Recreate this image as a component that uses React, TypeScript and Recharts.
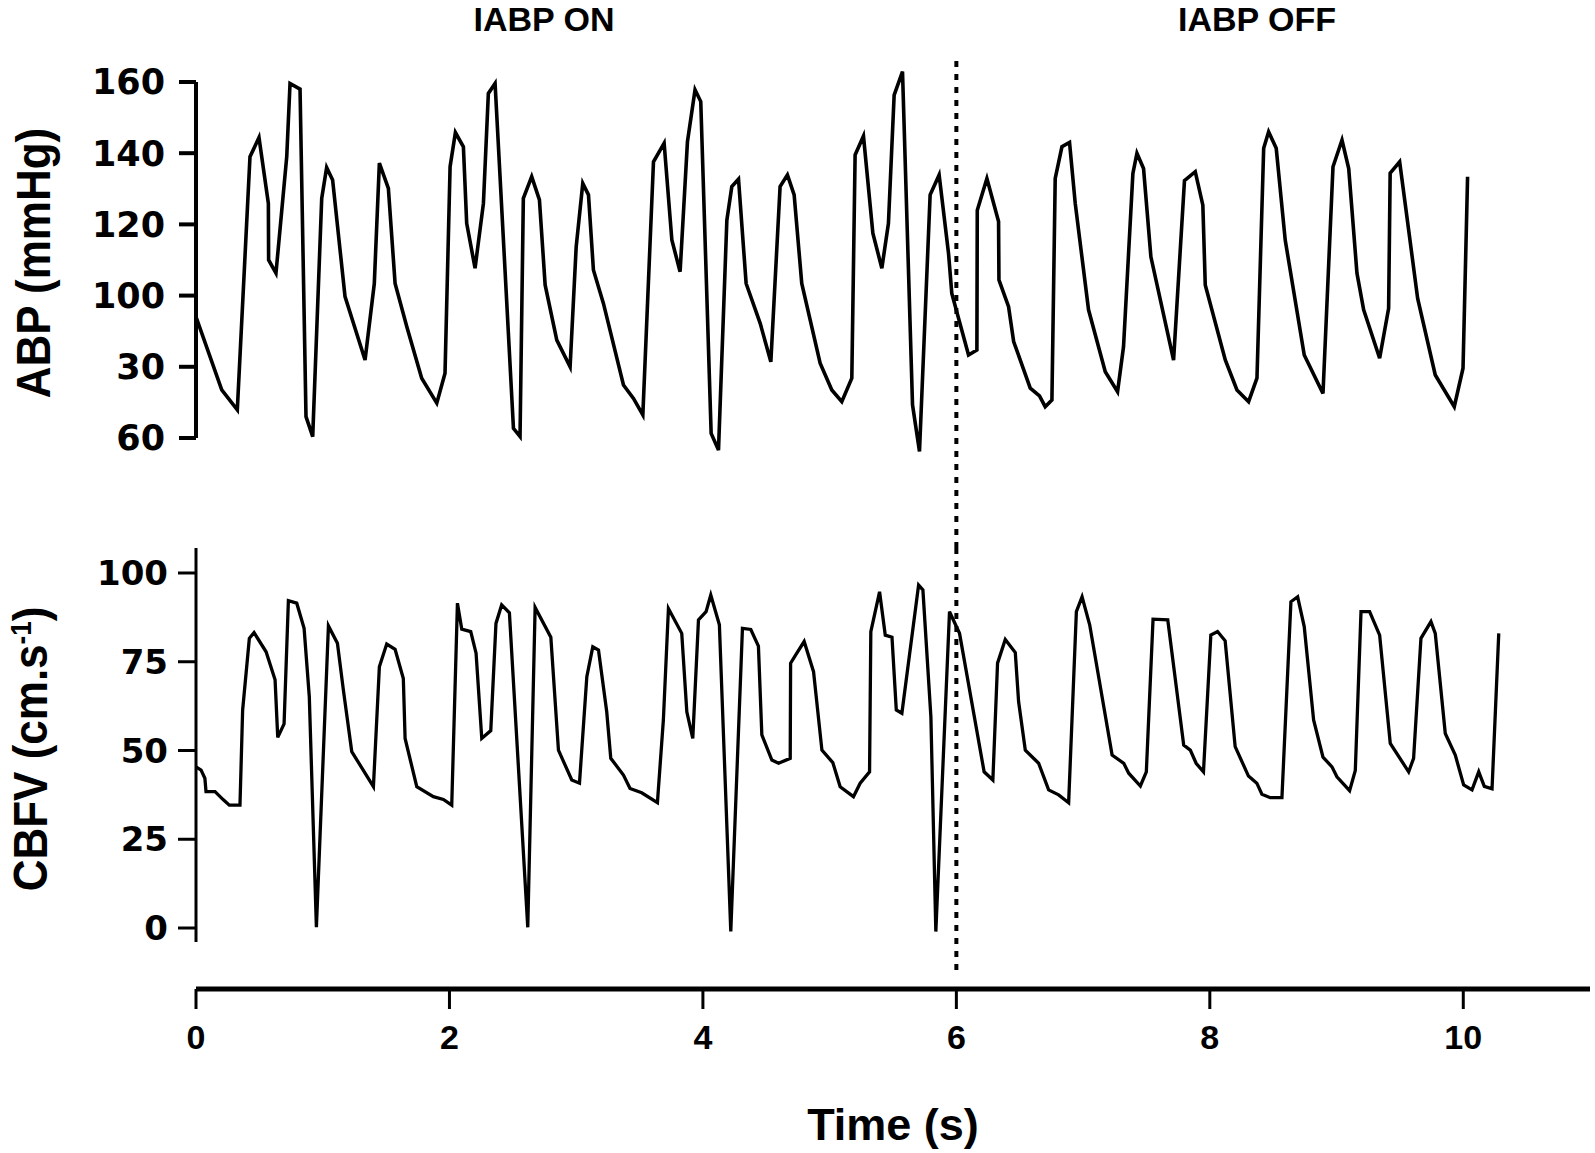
import { LineChart, Line, XAxis, YAxis, ReferenceLine } from 'recharts';

// ABP trace (time in s, pressure in mmHg)
const abpTime = [
    0, 0.203, 0.326, 0.426, 0.497, 0.571, 0.573, 0.631, 0.716, 0.742, 0.821, 0.868, 0.921,
    0.992, 1.031, 1.078, 1.176, 1.334, 1.407, 1.447, 1.518, 1.571, 1.663, 1.781, 1.9, 1.965,
    2.005, 2.047, 2.11, 2.136, 2.202, 2.268, 2.307, 2.36, 2.505, 2.557, 2.583, 2.649, 2.71,
    2.755, 2.847, 2.952, 3.0, 3.052, 3.097, 3.136, 3.215, 3.373, 3.452, 3.526, 3.61, 3.694,
    3.755, 3.82, 3.878, 3.938, 3.983, 4.065, 4.123, 4.189, 4.228, 4.281, 4.341, 4.452, 4.536,
    4.609, 4.667, 4.72, 4.78, 4.925, 5.017, 5.096, 5.175, 5.201, 5.267, 5.341, 5.412, 5.464,
    5.509, 5.575, 5.654, 5.709, 5.793, 5.864, 5.938, 5.964, 6.096, 6.162, 6.165, 6.241, 6.333,
    6.336, 6.412, 6.452, 6.583, 6.656, 6.701, 6.754, 6.78, 6.833, 6.893, 6.938, 7.043, 7.175,
    7.272, 7.319, 7.393, 7.425, 7.477, 7.535, 7.714, 7.8, 7.885, 7.945, 7.964, 8.122, 8.214,
    8.306, 8.372, 8.425, 8.464, 8.524, 8.595, 8.745, 8.893, 8.972, 9.043, 9.096, 9.161, 9.214,
    9.34, 9.411, 9.423, 9.498, 9.569, 9.64, 9.779, 9.929, 9.998, 10.034,
];
const abpValues = [
    94, 73.5, 67.9, 139, 144.4, 125.9, 110, 106.3, 139, 159.6, 158, 66, 60.4,
    127.3, 136, 132.5, 99.7, 81.9, 103.4, 137.2, 130.1, 103.4, 91.3, 76.8, 69.8, 78.2,
    136.2, 145.8, 141.8, 120.3, 107.7, 125.9, 156.8, 159.6, 62.7, 60.4, 127.3, 133.4, 126.9,
    103, 87.5, 80, 113.7, 131.5, 128.3, 107.2, 97.8, 74.9, 71.1, 66.5, 137.6, 142.8,
    115.6, 106.7, 143.2, 157.8, 154.5, 61.3, 56.6, 121.2, 130.6, 132.7, 103.4, 92.2, 81.4,
    130.6, 133.9, 128.3, 103.4, 81, 73.5, 70.2, 76.8, 139.5, 144.8, 117.5, 107.7, 120.3,
    156.3, 162.9, 69.3, 56.2, 128.3, 133.9, 111.9, 100.6, 83.3, 84.7, 124, 132.9, 120.8,
    104.4, 96.9, 87.1, 74, 71.8, 68.8, 70.7, 132.9, 141.8, 143, 125.9, 96, 78.6,
    73, 85.6, 134.3, 140, 135.7, 110.9, 81.9, 132.3, 134.8, 125.4, 103, 81.9, 73.5,
    70.2, 76.8, 141.4, 146, 141.4, 115.6, 83.3, 72.5, 136.2, 143.7, 135.7, 106.3, 96,
    82.4, 96.4, 134.4, 137.6, 118.4, 99.2, 77.7, 68.8, 79.6, 133.4,
];

// CBFV trace (time in s, velocity in cm/s)
const cbfvTime = [
    0, 0.04, 0.07, 0.079, 0.15, 0.216, 0.263, 0.347, 0.368, 0.421, 0.458, 0.553, 0.624, 0.645,
    0.695, 0.729, 0.795, 0.853, 0.894, 0.95, 1.045, 1.116, 1.163, 1.229, 1.4, 1.447, 1.505,
    1.571, 1.636, 1.65, 1.742, 1.873, 1.952, 2.018, 2.063, 2.097, 2.168, 2.21, 2.255, 2.326,
    2.367, 2.412, 2.473, 2.618, 2.676, 2.8, 2.86, 2.965, 3.026, 3.084, 3.131, 3.176, 3.241,
    3.273, 3.373, 3.425, 3.517, 3.641, 3.688, 3.728, 3.833, 3.873, 3.92, 3.965, 4.025, 4.062,
    4.13, 4.22, 4.312, 4.378, 4.438, 4.465, 4.544, 4.597, 4.689, 4.692, 4.741, 4.799, 4.873,
    4.939, 5.025, 5.083, 5.188, 5.241, 5.315, 5.325, 5.394, 5.439, 5.492, 5.526, 5.57, 5.702,
    5.736, 5.799, 5.838, 5.946, 6.025, 6.219, 6.288, 6.325, 6.386, 6.465, 6.491, 6.544, 6.649,
    6.728, 6.807, 6.886, 6.947, 6.992, 7.052, 7.229, 7.321, 7.36, 7.452, 7.499, 7.552, 7.668,
    7.794, 7.846, 7.892, 7.95, 8.008, 8.061, 8.121, 8.2, 8.305, 8.371, 8.411, 8.477, 8.569,
    8.64, 8.693, 8.745, 8.819, 8.893, 8.964, 9.003, 9.103, 9.148, 9.193, 9.261, 9.34, 9.424,
    9.569, 9.608, 9.666, 9.745, 9.779, 9.858, 9.937, 10.003, 10.069, 10.122, 10.166, 10.227, 10.28,
];
const cbfvValues = [
    45.4, 44.5, 42.2, 38.4, 38.4, 36.1, 34.6, 34.6, 61.4, 81.6, 83.2, 77.8, 69.9, 53.7,
    57.5, 92.2, 91.5, 84.4, 65.2, 0.2, 85.1, 80.2, 67, 49.7, 39.8, 73.6, 80,
    78.5, 70.3, 53.4, 39.8, 37, 36.2, 34.6, 91.5, 84.2, 83.5, 77.4, 53.4, 55.6,
    85.8, 91, 88.8, 0.2, 90.3, 81.9, 50.1, 41.7, 40.8, 70.8, 79.2, 78.3, 60.9,
    47.8, 43.1, 39.3, 38.1, 35.3, 58.6, 90, 83, 60.9, 53.4, 86.8, 89.1, 93.8,
    85.4, -1, 84.4, 84.1, 79.4, 54.4, 47.3, 46.4, 47.8, 74.6, 77.4, 80.7, 72.2,
    50.1, 46.6, 39.8, 37, 40.8, 44, 83.5, 94.7, 82.5, 81.9, 61.4, 60.5, 96.6,
    95.2, 59.5, -1, 89.1, 83, 44, 41.7, 74.6, 81.3, 77.6, 63.8, 50.1, 46.4,
    38.9, 37.5, 35.3, 89.1, 93.3, 85.4, 48.7, 46.4, 43.6, 40, 44, 87, 86.8,
    51.5, 50.1, 46.4, 44, 82.5, 83.5, 80.9, 51.1, 42.8, 40.8, 37.7, 36.7, 36.7,
    91.9, 93.3, 84.9, 58.6, 48.1, 45.4, 42.6, 38.7, 44.4, 89.1, 89.1, 82.5, 52,
    44, 47.8, 81.6, 86.3, 83, 54.8, 48.7, 40.3, 38.9, 44, 39.9, 39.2, 83,
];

const timeTicks = [0, 2, 4, 6, 8, 10];
const abpTicks = [60, 80, 100, 120, 140, 160];
const abpTickLabels = ['60', '30', '100', '120', '140', '160'];
const cbfvTicks = [0, 25, 50, 75, 100];
const phaseLabels = ['IABP ON', 'IABP OFF'];
const pumpOffTime = 6;

const abpData = abpTime.map((t, i) => ({ t, abp: abpValues[i] }));
const cbfvData = cbfvTime.map((t, i) => ({ t, cbfv: cbfvValues[i] }));

const W = 1595;
const H = 1153;
const AXIS_W = 80;
const margin = { right: 5, left: 196 - AXIS_W };
const tickFont = { fill: '#000', fontSize: 35, fontWeight: 700, fontFamily: 'DejaVu Sans' };
const labelFont = { fontFamily: '"Liberation Sans", Arial, sans-serif', fontWeight: 700, fill: '#000' };
const dotted = { stroke: '#000', strokeWidth: 4, strokeDasharray: '6 7' };

export default function App() {
    return (
        <div style={{ position: 'relative', width: W, height: H, background: '#fff' }}>
            <style>{'body { margin: 0; }'}</style>

            {/* top panel: ABP */}
            <div style={{ position: 'absolute', left: 0, top: 0 }}>
                <LineChart width={W} height={560} margin={{ ...margin, top: 55, bottom: 12 }}>
                    <XAxis type="number" dataKey="t" domain={[0, 11]} allowDataOverflow hide />
                    <YAxis
                        width={AXIS_W}
                        domain={[29.1, 167.58]}
                        allowDataOverflow
                        ticks={abpTicks}
                        interval={0}
                        tickFormatter={(v) => abpTickLabels[abpTicks.indexOf(v)]}
                        axisLine={false}
                        tickLine={{ stroke: '#000', strokeWidth: 4 }}
                        tickSize={17}
                        tickMargin={14}
                        tick={tickFont}
                    />
                    <ReferenceLine segment={[{ x: 0, y: 60 }, { x: 0, y: 160 }]} stroke="#000" strokeWidth={4} />
                    <ReferenceLine x={pumpOffTime} {...dotted} />
                    <Line
                        data={abpData}
                        dataKey="abp"
                        type="linear"
                        stroke="#000"
                        strokeWidth={3.6}
                        dot={false}
                        isAnimationActive={false}
                    />
                </LineChart>
            </div>

            {/* bottom panel: CBFV + time axis */}
            <div style={{ position: 'absolute', left: 0, top: 540 }}>
                <LineChart width={W} height={613} margin={{ ...margin, top: 8, bottom: 0 }}>
                    <XAxis
                        type="number"
                        dataKey="t"
                        domain={[0, 11]}
                        allowDataOverflow
                        ticks={timeTicks}
                        interval={0}
                        height={164}
                        axisLine={{ stroke: '#000', strokeWidth: 5 }}
                        tickLine={{ stroke: '#000', strokeWidth: 3 }}
                        tickSize={20}
                        tickMargin={16}
                        tick={{ ...labelFont, fontSize: 34 }}
                    />
                    <YAxis
                        width={AXIS_W}
                        domain={[-17.18, 107.04]}
                        allowDataOverflow
                        ticks={cbfvTicks}
                        interval={0}
                        axisLine={false}
                        tickLine={{ stroke: '#000', strokeWidth: 3 }}
                        tickSize={18}
                        tickMargin={10}
                        tick={{ ...tickFont, fontSize: 34 }}
                    />
                    <ReferenceLine segment={[{ x: 0, y: 107.04 }, { x: 0, y: -3.94 }]} stroke="#000" strokeWidth={3} />
                    <ReferenceLine segment={[{ x: pumpOffTime, y: 107.04 }, { x: pumpOffTime, y: -13.8 }]} {...dotted} />
                    <Line
                        data={cbfvData}
                        dataKey="cbfv"
                        type="linear"
                        stroke="#000"
                        strokeWidth={3.3}
                        dot={false}
                        isAnimationActive={false}
                    />
                </LineChart>
            </div>

            {/* titles */}
            <svg width={W} height={H} style={{ position: 'absolute', left: 0, top: 0, pointerEvents: 'none' }}>
                <text x={544} y={31} textAnchor="middle" fontSize={34} {...labelFont}>{phaseLabels[0]}</text>
                <text x={1257} y={31} textAnchor="middle" fontSize={34} {...labelFont}>{phaseLabels[1]}</text>
                <text transform="translate(50,263) scale(1.1,1) rotate(-90)" textAnchor="middle" fontSize={44} {...labelFont}>
                    ABP (mmHg)
                </text>
                <text transform="translate(47,749) scale(1.1,1) rotate(-90)" textAnchor="middle" fontSize={44} {...labelFont}>
                    CBFV (cm.s<tspan dy={-15} fontSize={26}>-1</tspan><tspan dy={15}>)</tspan>
                </text>
                <text x={893} y={1140} textAnchor="middle" fontSize={45} {...labelFont}>Time (s)</text>
            </svg>
        </div>
    );
}
